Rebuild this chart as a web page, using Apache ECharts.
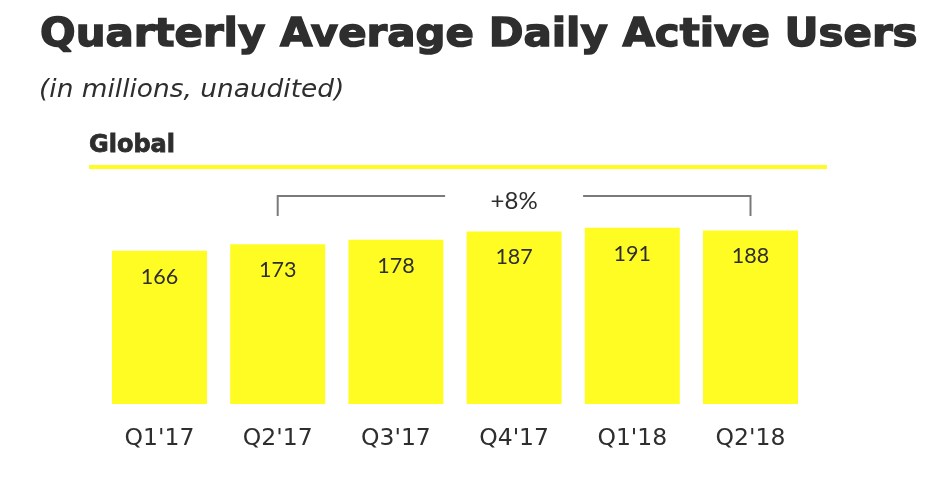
<!DOCTYPE html>
<html>
<head>
<meta charset="utf-8">
<script src="https://cdn.jsdelivr.net/npm/echarts@6/dist/echarts.min.js"></script>
<style>
html,body{margin:0;padding:0;background:#fff;}
#chart{width:931px;height:478px;}
</style>
</head>
<body>
<div id="chart"></div>
<script>
const categories = ["Q1'17", "Q2'17", "Q3'17", "Q4'17", "Q1'18", "Q2'18"];
const dauValues = [166, 173, 178, 187, 191, 188];
const growthLabel = "+8%";
const growthFrom = 1;
const growthTo = 5;

const YELLOW = '#FFFC24';
const TEXT = '#2e2e2e';

const chart = echarts.init(document.getElementById('chart'));
const option = {
  backgroundColor: '#fff',
  animation: false,
  grid: { left: 100.4, right: 121.4, top: 219.4, bottom: 74 },
  xAxis: {
    type: 'category', data: categories,
    axisLine: { show: false }, axisTick: { show: false },
    axisLabel: { fontFamily: 'DejaVu Sans', fontSize: 23.5, color: TEXT, margin: 23 }
  },
  yAxis: { type: 'value', min: 0, max: 200, show: false, splitLine: { show: false } },
  series: [{
    type: 'bar', data: dauValues, barWidth: 95,
    itemStyle: { color: YELLOW },
    label: { show: true, position: 'insideTop', distance: 15,
      fontFamily: 'Lato', fontSize: 21.5, color: TEXT }
  }]
};
chart.setOption(option);

const x1 = chart.convertToPixel({ xAxisIndex: 0 }, categories[growthFrom]);
const x2 = chart.convertToPixel({ xAxisIndex: 0 }, categories[growthTo]);
const xm = (x1 + x2) / 2;
const topY = 196, tickY = 216;
chart.setOption({
  graphic: [
    { type: 'text', x: 40, y: 36, scaleX: 1.075,
      style: { text: 'Quarterly Average Daily Active Users', fontFamily: 'DejaVu Sans',
        fontWeight: 'bold', fontSize: 39, fill: TEXT, stroke: TEXT, lineWidth: 1.4,
        textAlign: 'left', verticalAlign: 'middle', textVerticalAlign: 'middle' } },
    { type: 'text', x: 39, y: 91, scaleX: 1.1,
      style: { text: '(in millions, unaudited)', fontFamily: 'DejaVu Sans',
        fontStyle: 'oblique', fontSize: 24, fill: TEXT, textAlign: 'left',
        verticalAlign: 'middle', textVerticalAlign: 'middle' } },
    { type: 'text', x: 89, y: 146,
      style: { text: 'Global', fontFamily: 'DejaVu Sans',
        fontWeight: 'bold', fontSize: 24, fill: TEXT, stroke: TEXT, lineWidth: 0.8,
        textAlign: 'left', verticalAlign: 'middle', textVerticalAlign: 'middle' } },
    { type: 'line', shape: { x1: 89, y1: 167, x2: 827, y2: 167 },
      style: { stroke: YELLOW, lineWidth: 4 } },
    { type: 'polyline', shape: { points: [[x1, tickY], [x1, topY], [xm - 69, topY]] },
      style: { stroke: '#7a7a7a', lineWidth: 2, fill: null } },
    { type: 'polyline', shape: { points: [[xm + 69, topY], [x2, topY], [x2, tickY]] },
      style: { stroke: '#7a7a7a', lineWidth: 2, fill: null } },
    { type: 'text', x: xm, y: 201,
      style: { text: growthLabel, fontFamily: 'Lato', fontSize: 24, fill: TEXT,
        textAlign: 'center', verticalAlign: 'middle', textVerticalAlign: 'middle' } }
  ]
});
</script>
</body>
</html>
